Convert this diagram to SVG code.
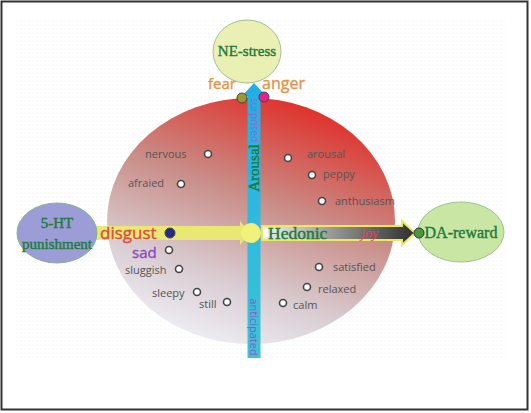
<svg xmlns="http://www.w3.org/2000/svg" width="531" height="413" viewBox="0 0 531 413">
<defs>
<linearGradient id="disc" x1="0.75" y1="0.05" x2="0.35" y2="1">
<stop offset="0" stop-color="#e0302a"/>
<stop offset="0.4" stop-color="#c98c86"/>
<stop offset="0.75" stop-color="#d9cdd2"/>
<stop offset="1" stop-color="#eeeef4"/>
</linearGradient>
<linearGradient id="hed" x1="0" y1="0" x2="1" y2="0">
<stop offset="0" stop-color="#f2f2f2"/>
<stop offset="1" stop-color="#2e2e2e"/>
</linearGradient>
<linearGradient id="vbar" x1="0" y1="0" x2="0" y2="1">
<stop offset="0" stop-color="#22aee6"/>
<stop offset="1" stop-color="#3cc4d6"/>
</linearGradient>
<pattern id="dots" width="4" height="4" patternUnits="userSpaceOnUse">
<rect width="4" height="4" fill="#ffffff"/>
<circle cx="1" cy="1" r="0.5" fill="#e4ecf0"/>
</pattern>
</defs>
<style>
.lbl{font-family:"Open Sans","Liberation Sans",sans-serif;font-size:11px;fill:#555555}
.dot{fill:#ffffff;stroke:#444444;stroke-width:1.6}
.node{font-family:"Liberation Serif","DejaVu Serif",serif;font-size:15px;fill:#1d7a3c;stroke:#1d7a3c;stroke-width:0.4;text-anchor:middle}
.emo{font-family:"Open Sans","Liberation Sans",sans-serif;stroke-width:0.35}
</style>
<rect x="1.5" y="1.5" width="526" height="408" fill="#ffffff" stroke="#333333" stroke-width="2"/>
<rect x="14" y="19" width="491" height="339" fill="url(#dots)"/>
<ellipse cx="251" cy="221" rx="144" ry="123" fill="url(#disc)"/>

<g id="connectors">
<polygon points="95,226 240,226 240,221 250,233 240,245 240,240 95,240" fill="#e8e872"/>
<polygon points="262,226 402,226 402,221 415,233 402,245 402,240 262,240" fill="url(#hed)" stroke="#eaea5a" stroke-width="2"/>
<rect x="263" y="229" width="5" height="8" fill="#ffffff"/>
<polygon points="247.5,358 247.5,96 242,96 254,83 266,96 260.5,96 260.5,358" fill="url(#vbar)"/>
<circle cx="251" cy="233" r="10" fill="#f2f27a"/>
</g>

<g id="ne-stress">
<ellipse cx="247" cy="51.5" rx="34" ry="31.5" fill="#eaf0b4" stroke="#a8bc96" stroke-width="1"/>
<text class="node" x="247" y="56">NE-stress</text>
</g>
<g id="ht-punishment">
<ellipse cx="57" cy="233" rx="40" ry="30" fill="#9c9cd6" stroke="#86b48a" stroke-width="1"/>
<text class="node" x="57" y="228">5-HT</text>
<text class="node" x="57" y="249">punishment</text>
</g>
<g id="da-reward">
<ellipse cx="461" cy="232" rx="43" ry="30" fill="#cae6a4" stroke="#9cc48a" stroke-width="1"/>
<text class="node" x="461" y="238" style="font-size:16px">DA-reward</text>
</g>

<g id="axis-labels">
<text class="node" x="254" y="168" transform="rotate(-90 254 168)" dy="5">Arousal</text>
<text x="254" y="120" transform="rotate(90 254 120)" text-anchor="middle" style="font-family:'Open Sans','Liberation Sans',sans-serif;font-size:10px;fill:#8a6acc" dy="3.5">surprised</text>
<text x="254" y="327" transform="rotate(90 254 327)" text-anchor="middle" style="font-family:'Open Sans','Liberation Sans',sans-serif;font-size:11px;fill:#8a5ac8" dy="4">anticipated</text>
<text class="node" x="268" y="239" style="font-size:17.5px;text-anchor:start">Hedonic</text>
<text x="361" y="238" style="font-family:'Liberation Serif',serif;font-size:14px;font-style:italic;fill:#e8405a">joy</text>
</g>

<g id="key-emotions">
<text class="emo" x="208" y="89" style="font-size:15px;fill:#e0944a;stroke:#e0944a">fear</text>
<text class="emo" x="262" y="89" style="font-size:16px;fill:#e0944a;stroke:#e0944a">anger</text>
<circle cx="242" cy="98" r="5" fill="#9a9a2e" stroke="#444" stroke-width="1"/>
<circle cx="264" cy="97" r="5" fill="#e0248c" stroke="#444" stroke-width="1"/>
<text class="emo" x="100" y="239" style="font-size:17px;fill:#e04848;stroke:#e04848">disgust</text>
<circle cx="170" cy="233" r="5" fill="#2a2a86" stroke="#444" stroke-width="1"/>
<text class="emo" x="132" y="258" style="font-size:15px;fill:#8a4abf;stroke:#8a4abf">sad</text>
<circle class="dot" cx="169" cy="250" r="3.5"/>
<circle cx="419" cy="233" r="5" fill="#4a9a3a" stroke="#333" stroke-width="1"/>
</g>

<g id="emotions">
<text class="lbl" x="145" y="158">nervous</text><circle class="dot" cx="208" cy="154" r="3.5"/>
<text class="lbl" x="128" y="187">afraied</text><circle class="dot" cx="181" cy="184" r="3.5"/>
<circle class="dot" cx="288" cy="158" r="3.5"/><text class="lbl" x="307" y="158">arousal</text>
<circle class="dot" cx="312" cy="175" r="3.5"/><text class="lbl" x="323" y="178">peppy</text>
<circle class="dot" cx="322" cy="201" r="3.5"/><text class="lbl" x="335" y="205">anthusiasm</text>
<text class="lbl" x="125" y="274">sluggish</text><circle class="dot" cx="179" cy="269" r="3.5"/>
<text class="lbl" x="152" y="297">sleepy</text><circle class="dot" cx="197" cy="292" r="3.5"/>
<text class="lbl" x="199" y="308">still</text><circle class="dot" cx="227" cy="302" r="3.5"/>
<circle class="dot" cx="319" cy="267" r="3.5"/><text class="lbl" x="333" y="271">satisfied</text>
<circle class="dot" cx="307" cy="287" r="3.5"/><text class="lbl" x="318" y="293">relaxed</text>
<circle class="dot" cx="283" cy="303" r="3.5"/><text class="lbl" x="293" y="309">calm</text>
</g>
</svg>
